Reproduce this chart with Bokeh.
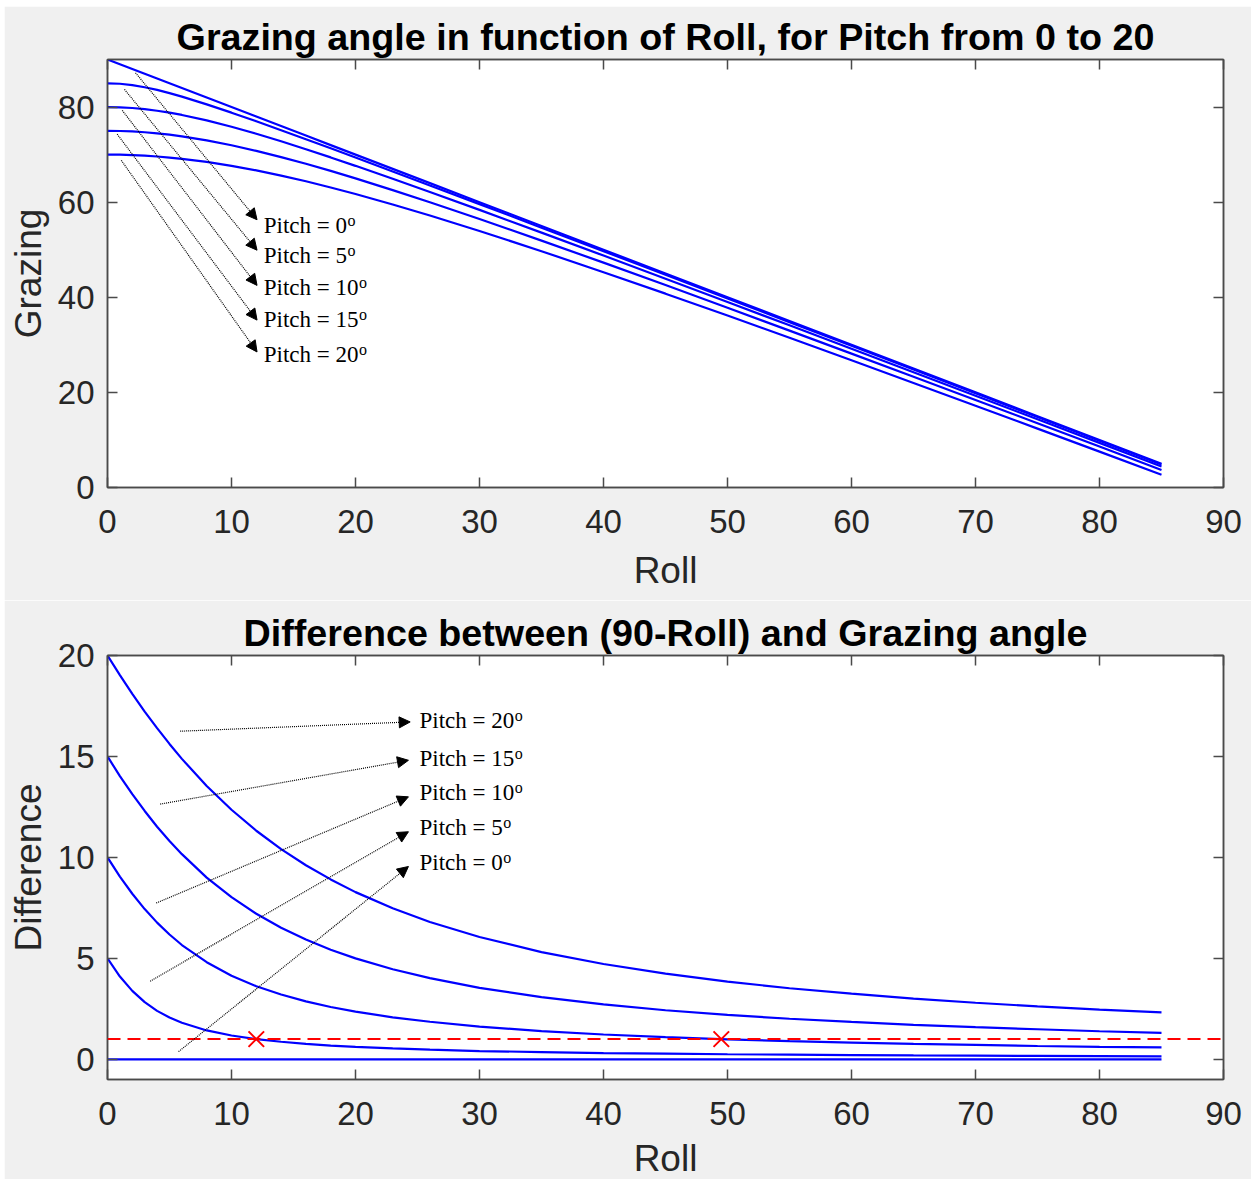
from bokeh.plotting import figure
from bokeh.layouts import column
from bokeh.models import (ColumnDataSource, LinearAxis, FixedTicker, Range1d,
                          Arrow, NormalHead, Span)
from bokeh.core.properties import value
from bokeh.embed import file_html
from bokeh.resources import INLINE

# ---- data -------------------------------------------------------------
roll = [0, 1, 2, 3, 4, 5, 6, 8, 10, 12, 14, 16, 18, 20,
        23, 26, 30, 35, 40, 45, 50, 55, 60, 65, 70, 75, 80, 85]

grazing_pitch_0 = [90, 89, 88, 87, 86, 85, 84, 82, 80, 78, 76, 74, 72, 70,
                   67, 64, 60, 55, 50, 45, 40, 35, 30, 25, 20, 15, 10, 5]
grazing_pitch_5 = [85.0, 84.90, 84.61, 84.17, 83.60, 82.93, 82.19, 80.57, 78.82, 77.00,
                   75.13, 73.24, 71.32, 69.38, 66.46, 63.52, 59.59, 54.64, 49.69, 44.72,
                   39.75, 34.77, 29.79, 24.81, 19.82, 14.83, 9.84, 4.85]
grazing_pitch_10 = [80.0, 79.95, 79.80, 79.56, 79.23, 78.82, 78.34, 77.19, 75.86, 74.38,
                    72.80, 71.13, 69.41, 67.64, 64.92, 62.14, 58.38, 53.60, 48.77, 43.90,
                    39.01, 34.10, 29.17, 24.24, 19.29, 14.34, 9.38, 4.41]
grazing_pitch_15 = [75.0, 74.97, 74.87, 74.70, 74.48, 74.19, 73.84, 73.00, 71.97, 70.79,
                    69.48, 68.07, 66.57, 65.00, 62.54, 59.98, 56.46, 51.92, 47.28, 42.57,
                    37.80, 32.99, 28.15, 23.29, 18.41, 13.52, 8.61, 3.69]
grazing_pitch_20 = [70.0, 69.98, 69.90, 69.78, 69.60, 69.38, 69.12, 68.46, 67.64, 66.68,
                    65.59, 64.39, 63.09, 61.72, 59.52, 57.20, 53.94, 49.69, 45.28, 40.76,
                    36.15, 31.48, 26.75, 21.99, 17.20, 12.38, 7.54, 2.68]

diff_pitch_0 = [0, 0, 0, 0, 0, 0, 0, 0, 0, 0, 0, 0, 0, 0,
                0, 0, 0, 0, 0, 0, 0, 0, 0, 0, 0, 0, 0, 0]
diff_pitch_5 = [5.0, 4.10, 3.39, 2.83, 2.40, 2.07, 1.81, 1.43, 1.18, 1.00,
                0.87, 0.76, 0.68, 0.62, 0.54, 0.48, 0.41, 0.36, 0.31, 0.28,
                0.25, 0.23, 0.21, 0.19, 0.18, 0.17, 0.16, 0.15]
diff_pitch_10 = [10.0, 9.05, 8.20, 7.44, 6.77, 6.18, 5.66, 4.81, 4.14, 3.62,
                 3.21, 2.87, 2.59, 2.36, 2.08, 1.86, 1.62, 1.40, 1.23, 1.10,
                 0.99, 0.90, 0.83, 0.76, 0.71, 0.66, 0.62, 0.59]
diff_pitch_15 = [15.0, 14.03, 13.13, 12.30, 11.52, 10.81, 10.16, 9.00, 8.03, 7.21,
                 6.52, 5.93, 5.43, 5.00, 4.46, 4.02, 3.54, 3.08, 2.72, 2.43,
                 2.20, 2.01, 1.85, 1.71, 1.59, 1.49, 1.39, 1.31]
diff_pitch_20 = [20.0, 19.03, 18.10, 17.22, 16.40, 15.62, 14.88, 13.54, 12.36, 11.32,
                 10.41, 9.61, 8.91, 8.28, 7.48, 6.80, 6.06, 5.31, 4.72, 4.24,
                 3.85, 3.52, 3.25, 3.01, 2.80, 2.62, 2.46, 2.32]

grazing_series = [grazing_pitch_0, grazing_pitch_5, grazing_pitch_10,
                  grazing_pitch_15, grazing_pitch_20]
diff_series = [diff_pitch_0, diff_pitch_5, diff_pitch_10, diff_pitch_15, diff_pitch_20]

# one-degree threshold and the rolls where the 5 and 10 deg curves meet it
threshold = 1.0
cross_roll = [12.0, 49.5]
cross_diff = [1.0, 1.0]

x_ticks = [0, 10, 20, 30, 40, 50, 60, 70, 80, 90]
grazing_ticks = [0, 20, 40, 60, 80]
diff_ticks = [0, 5, 10, 15, 20]

# pitch annotations (arrow tail -> arrow tip, then label with a raised "o")
top_labels = ["Pitch = 0", "Pitch = 5", "Pitch = 10", "Pitch = 15", "Pitch = 20"]
top_arrow_x0 = [2.26, 1.37, 1.19, 0.78, 1.11]
top_arrow_y0 = [87.2, 83.7, 79.3, 74.3, 68.8]
top_arrow_x1 = [12.06, 12.06, 12.06, 12.06, 12.06]
top_arrow_y1 = [56.3, 49.9, 42.5, 35.2, 28.5]
top_label_x = [12.6, 12.6, 12.6, 12.6, 12.6]
top_label_y = [55.1, 48.8, 42.0, 35.3, 28.0]

bot_labels = ["Pitch = 20", "Pitch = 15", "Pitch = 10", "Pitch = 5", "Pitch = 0"]
bot_arrow_x0 = [5.86, 4.25, 3.93, 3.44, 5.73]
bot_arrow_y0 = [16.25, 12.64, 7.74, 3.87, 0.38]
bot_arrow_x1 = [24.41, 24.27, 24.27, 24.27, 24.27]
bot_arrow_y1 = [16.71, 14.81, 13.00, 11.27, 9.55]
bot_label_x = [25.16, 25.16, 25.16, 25.16, 25.16]
bot_label_y = [16.79, 14.90, 13.20, 11.47, 9.74]

# ---- styling ----------------------------------------------------------
AXIS = "#4a4a4a"
TXT = "#262626"
BG = "#f0f0f0"
SANS = "Liberation Sans"
SERIF = "Liberation Serif"
LABEL_PX = 23
DIGIT_EM = 0.5          # serif digit advance
PREFIX_EM = 3.12        # advance of "Pitch = " in the serif face


def make_axes(title, ylabel, y_lo, y_hi, y_ticks, frame_h, top, bottom, xlabel_gap):
    p = figure(frame_width=1116, frame_height=frame_h,
               min_border_left=101, min_border_right=28,
               min_border_top=top, min_border_bottom=bottom,
               x_range=Range1d(0, 90), y_range=Range1d(y_lo, y_hi),
               x_axis_label="Roll", y_axis_label=ylabel,
               title=title, output_backend="svg", toolbar_location=None)
    p.border_fill_color = BG
    p.background_fill_color = "white"
    p.outline_line_color = AXIS
    p.outline_line_width = 1.5
    p.grid.visible = False

    p.title.align = "center"
    p.title.text_font = SANS
    p.title.text_font_size = "37.7px"
    p.title.text_font_style = "bold"
    p.title.text_color = "black"
    p.title.standoff = 4

    p.xaxis.ticker = FixedTicker(ticks=x_ticks)
    p.yaxis.ticker = FixedTicker(ticks=y_ticks)
    for ax in (p.xaxis[0], p.yaxis[0]):
        ax.major_tick_in = 10
        ax.major_tick_out = 0
        ax.minor_tick_line_color = None
        ax.axis_line_color = AXIS
        ax.axis_line_width = 1.5
        ax.major_tick_line_color = AXIS
        ax.major_tick_line_width = 1.5
        ax.major_label_text_font = SANS
        ax.major_label_text_font_size = "33px"
        ax.major_label_text_color = TXT
        ax.axis_label_text_font = SANS
        ax.axis_label_text_font_size = "37px"
        ax.axis_label_text_font_style = "normal"
        ax.axis_label_text_color = TXT
    p.xaxis.major_label_standoff = 22
    p.xaxis.axis_label_standoff = xlabel_gap
    p.yaxis.major_label_standoff = 13
    p.yaxis.axis_label_standoff = 6

    # box ticks on the top and right edges, no labels there
    for side, ticks in (("above", x_ticks), ("right", y_ticks)):
        ax = LinearAxis(ticker=FixedTicker(ticks=ticks), major_tick_in=10,
                        major_tick_out=0, minor_tick_line_color=None,
                        axis_line_color=AXIS, axis_line_width=1.5,
                        major_tick_line_color=AXIS, major_tick_line_width=1.5,
                        major_label_text_color=None, major_label_standoff=0)
        p.add_layout(ax, side)
    return p


def annotate(p, labels, x0, y0, x1, y1, lx, ly):
    src = ColumnDataSource(dict(x0=x0, y0=y0, x1=x1, y1=y1))
    p.add_layout(Arrow(x_start="x0", y_start="y0", x_end="x1", y_end="y1",
                       source=src, line_color="black", line_width=1.2,
                       line_dash="1 1",
                       end=NormalHead(size=11, fill_color="black",
                                      line_color="black", line_width=1)))
    sup_dx = [(PREFIX_EM + DIGIT_EM * len(t.split("= ")[1])) * LABEL_PX + 0.5
              for t in labels]
    txt = ColumnDataSource(dict(x=lx, y=ly, text=labels, sup=["o"] * len(labels),
                                dx=sup_dx))
    p.text(x="x", y="y", text="text", source=txt, text_font=value(SERIF),
           text_font_size=f"{LABEL_PX}px", text_baseline="middle",
           text_align="left", text_color="black")
    p.text(x="x", y="y", text="sup", source=txt, x_offset="dx", y_offset=-5,
           text_font=value(SERIF), text_font_size="16px", text_baseline="middle",
           text_align="left", text_color="black")


# ---- top: grazing angle ----------------------------------------------
p1 = make_axes("Grazing angle in function of Roll, for Pitch from 0 to 20",
               "Grazing", 0, 90, grazing_ticks, 428, 53, 113, 14)
for series in grazing_series:
    p1.line(roll, series, line_color="#0000ff", line_width=2.2)
annotate(p1, top_labels, top_arrow_x0, top_arrow_y0, top_arrow_x1, top_arrow_y1,
         top_label_x, top_label_y)

# ---- bottom: difference ----------------------------------------------
p2 = make_axes("Difference between (90-Roll) and Grazing angle",
               "Difference", -1, 20, diff_ticks, 424, 55, 100, 10)
for series in diff_series:
    p2.line(roll, series, line_color="#0000ff", line_width=2.2)
p2.add_layout(Span(location=threshold, dimension="width", line_color="#ff0000",
                   line_width=2, line_dash="13 7"))
p2.scatter(cross_roll, cross_diff, marker="x", size=22, line_color="#ff0000",
           line_width=2)
annotate(p2, bot_labels, bot_arrow_x0, bot_arrow_y0, bot_arrow_x1, bot_arrow_y1,
         bot_label_x, bot_label_y)

layout = column(p1, p2, spacing=0, margin=(6, 0, 0, 4))
open("out.html", "w").write(file_html(layout, INLINE, title="Grazing angle"))
